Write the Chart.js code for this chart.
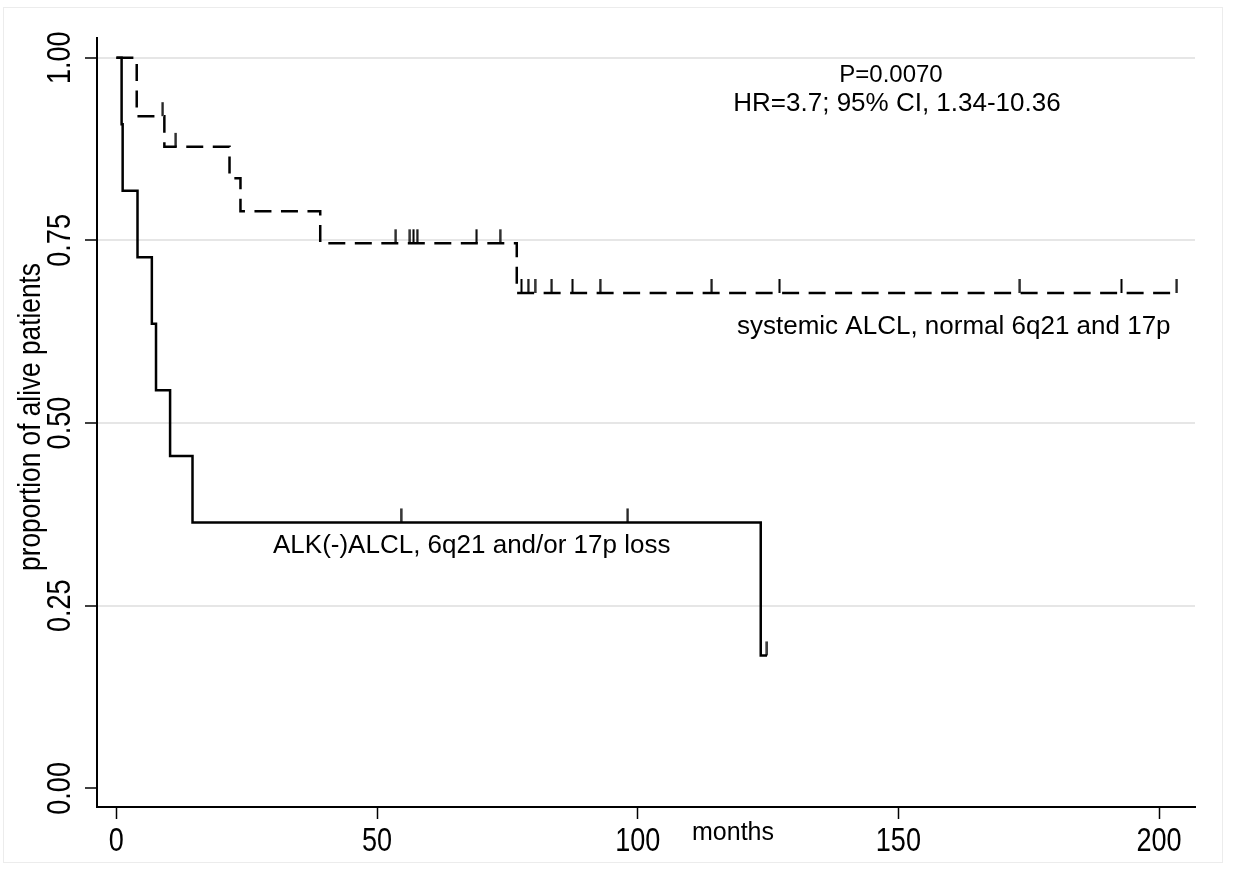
<!DOCTYPE html>
<html><head><meta charset="utf-8">
<script src="https://cdn.jsdelivr.net/npm/chart.js@4.4.0/dist/chart.umd.min.js"></script>
<style>html,body{margin:0;padding:0;background:#fff}canvas{display:block}</style>
</head><body>
<canvas id="c" width="1235" height="871"></canvas>
<script>
// ---- data ----
const xTicks = [0, 50, 100, 150, 200];
const xTickLabels = ['0', '50', '100', '150', '200'];
const yTicks = [0, 0.25, 0.5, 0.75, 1];
const yTickLabels = ['0.00', '0.25', '0.50', '0.75', '1.00'];
const solidTimes = [0, 1.0, 1.2, 4.05, 6.8, 7.6, 10.3, 14.6, 123.6, 124.8];
const solidSurv  = [1, 0.909, 0.818, 0.727, 0.636, 0.545, 0.455, 0.364, 0.182, 0.182];
const solidCensor = [54.6, 98.1, 124.8];
const dashTimes = [0, 3.9, 9.2, 21.7, 23.8, 39.1, 76.8, 203.4];
const dashSurv  = [1, 0.920, 0.878, 0.835, 0.790, 0.746, 0.678, 0.678];
const dashCensor = [8.9, 11.4, 53.6, 56.3, 57.0, 57.7, 69.1, 73.6, 77.7, 79.0, 80.3, 83.5, 87.5, 92.8, 114.2, 127.2, 173.3, 192.8, 203.4];
const labelSolid = 'ALK(-)ALCL, 6q21 and/or 17p loss';
const labelDash = 'systemic ALCL, normal 6q21 and 17p';
const statLines = ['P=0.0070', 'HR=3.7; 95% CI, 1.34-10.36'];
const xTitle = 'months';
const yTitle = 'proportion of alive patients';

// ---- helpers ----
function toPts(t, s) { return t.map((v, i) => ({x: v, y: s[i]})); }
function survAt(t, s, time) { let k = 0; for (let i = 0; i < t.length; i++) if (t[i] <= time) k = i; return s[k]; }
function censorPts(c, t, s) { return c.map(v => ({x: v, y: survAt(t, s, v)})); }
function tickImg() {
  const c = document.createElement('canvas'); c.width = 3; c.height = 30;
  const g = c.getContext('2d'); g.fillStyle = '#000'; g.fillRect(0.5, 1, 2, 14);
  return c;
}
const censorMark = tickImg();
const SANS = '"Liberation Sans", Arial, sans-serif';

function drawText(ctx, text, x, y, rot, sx, font, align, baseline) {
  ctx.save();
  ctx.translate(x, y); ctx.rotate(rot); ctx.scale(sx, 1);
  ctx.font = font; ctx.textAlign = align; ctx.textBaseline = baseline;
  ctx.fillText(text, 0, 0);
  ctx.restore();
}

const textPlugin = {
  id: 'txt',
  beforeDraw(chart) {
    const ctx = chart.ctx; ctx.save();
    ctx.fillStyle = '#fff'; ctx.fillRect(0, 0, chart.width, chart.height);
    ctx.strokeStyle = '#ececec'; ctx.lineWidth = 1; ctx.strokeRect(3.5, 7.5, 1219, 855);
    ctx.restore();
  },
  afterDraw(chart) {
    const ctx = chart.ctx; ctx.save();
    ctx.fillStyle = '#000';
    const ys = chart.scales.y, xs = chart.scales.x;
    yTicks.forEach((v, i) => {
      drawText(ctx, yTickLabels[i], 61, ys.getPixelForValue(v), -Math.PI / 2, 0.82, '33px ' + SANS, 'center', 'middle');
    });
    xTicks.forEach((v, i) => {
      drawText(ctx, xTickLabels[i], xs.getPixelForValue(v), 851, 0, 0.82, '33px ' + SANS, 'center', 'alphabetic');
    });
    drawText(ctx, yTitle, 31, 417, -Math.PI / 2, 0.82, '32px ' + SANS, 'center', 'middle');
    drawText(ctx, xTitle, 733, 840, 0, 1, '25px ' + SANS, 'center', 'alphabetic');
    drawText(ctx, statLines[0], 891, 75, 0, 1, '24px ' + SANS, 'center', 'middle');
    drawText(ctx, statLines[1], 897, 104, 0, 1, '26px ' + SANS, 'center', 'middle');
    drawText(ctx, labelDash, 737, 327, 0, 1, '26px ' + SANS, 'left', 'middle');
    drawText(ctx, labelSolid, 273, 546, 0, 1, '26px ' + SANS, 'left', 'middle');
    ctx.restore();
  }
};

new Chart(document.getElementById('c'), {
  type: 'line',
  data: {
    datasets: [
      {data: toPts(solidTimes, solidSurv), borderColor: '#000', borderWidth: 2.5, stepped: 'before', pointRadius: 0, fill: false},
      {data: toPts(dashTimes, dashSurv), borderColor: '#000', borderWidth: 2.5, borderDash: [17, 9.5], stepped: 'before', pointRadius: 0, fill: false},
      {type: 'scatter', data: censorPts(solidCensor, solidTimes, solidSurv), pointStyle: censorMark, pointRadius: 3, showLine: false},
      {type: 'scatter', data: censorPts(dashCensor, dashTimes, dashSurv), pointStyle: censorMark, pointRadius: 3, showLine: false}
    ]
  },
  options: {
    responsive: false, animation: false, devicePixelRatio: 1,
    layout: {padding: {top: 38, right: 40, bottom: 0, left: 0}},
    plugins: {legend: {display: false}, tooltip: {enabled: false}},
    scales: {
      x: {
        type: 'linear', min: -3.72, max: 206.9,
        afterBuildTicks: s => { s.ticks = xTicks.map(v => ({value: v})); },
        afterFit: s => { s.height = 64; },
        grid: {display: true, drawOnChartArea: false, drawTicks: true, tickLength: 12, tickColor: '#000', tickWidth: 1.5},
        border: {display: true, color: '#000', width: 2},
        ticks: {display: false}
      },
      y: {
        type: 'linear', min: -0.0255, max: 1.027,
        afterBuildTicks: s => { s.ticks = yTicks.map(v => ({value: v})); },
        afterFit: s => { s.width = 97; },
        grid: {
          color: c => (c.tick && c.tick.value === 0) ? 'rgba(0,0,0,0)' : '#e6e6e6',
          lineWidth: 2, drawTicks: true, tickLength: 12, tickColor: '#000', tickWidth: 1.5
        },
        border: {display: true, color: '#000', width: 2},
        ticks: {display: false}
      }
    }
  },
  plugins: [textPlugin]
});
</script>
</body></html>
